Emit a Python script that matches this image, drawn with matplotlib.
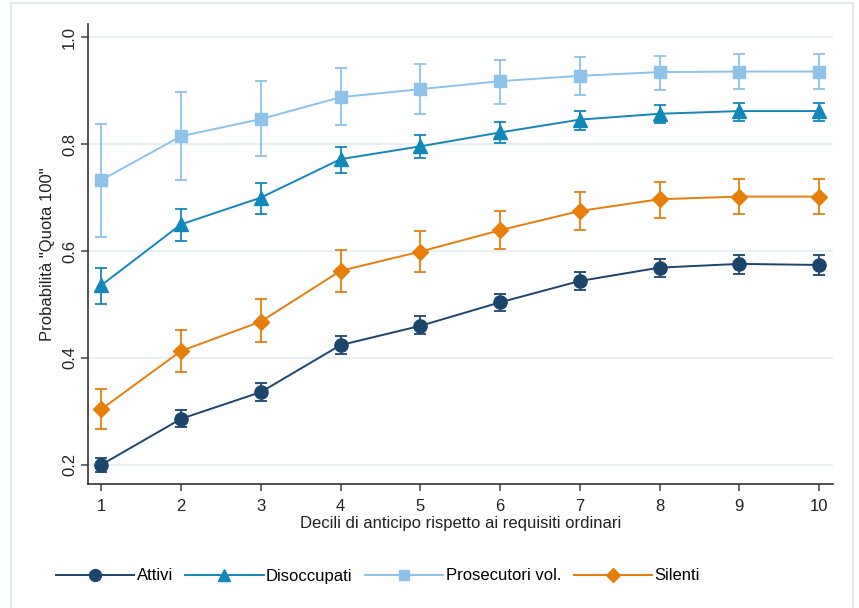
import numpy as np
import matplotlib
matplotlib.use("Agg")
import matplotlib.pyplot as plt
from matplotlib.patches import Rectangle

plt.rcParams['font.family'] = ['Liberation Sans', 'DejaVu Sans']

deciles = np.arange(1, 11)

# point estimates and confidence bounds
attivi = [0.200, 0.286, 0.336, 0.424, 0.460, 0.504, 0.544, 0.569, 0.576, 0.574]
attivi_lo = [0.187, 0.270, 0.320, 0.407, 0.444, 0.487, 0.527, 0.551, 0.558, 0.555]
attivi_hi = [0.212, 0.302, 0.353, 0.441, 0.478, 0.520, 0.561, 0.585, 0.593, 0.593]

disoccupati = [0.536, 0.650, 0.700, 0.772, 0.796, 0.822, 0.846, 0.857, 0.862, 0.862]
disoccupati_lo = [0.500, 0.619, 0.670, 0.747, 0.775, 0.802, 0.827, 0.840, 0.844, 0.844]
disoccupati_hi = [0.569, 0.679, 0.727, 0.795, 0.817, 0.841, 0.863, 0.873, 0.877, 0.877]

prosecutori = [0.733, 0.815, 0.847, 0.888, 0.903, 0.918, 0.928, 0.935, 0.936, 0.936]
prosecutori_lo = [0.626, 0.733, 0.778, 0.836, 0.856, 0.875, 0.892, 0.901, 0.903, 0.903]
prosecutori_hi = [0.837, 0.897, 0.918, 0.943, 0.951, 0.957, 0.963, 0.966, 0.968, 0.968]

silenti = [0.304, 0.413, 0.468, 0.563, 0.599, 0.639, 0.675, 0.697, 0.702, 0.702]
silenti_lo = [0.267, 0.373, 0.429, 0.523, 0.560, 0.604, 0.640, 0.662, 0.670, 0.669]
silenti_hi = [0.341, 0.452, 0.510, 0.602, 0.637, 0.675, 0.710, 0.730, 0.735, 0.734]

series = [
    ('Attivi', attivi, attivi_lo, attivi_hi, '#1c456e', 'o', 9.5),
    ('Disoccupati', disoccupati, disoccupati_lo, disoccupati_hi, '#1187ba', '^', 9.5),
    ('Prosecutori vol.', prosecutori, prosecutori_lo, prosecutori_hi, '#8dc3ea', 's', 8.5),
    ('Silenti', silenti, silenti_lo, silenti_hi, '#e67e0a', 'D', 8),
]

fig = plt.figure(figsize=(8.59, 6.08), dpi=100)
ax = fig.add_axes([88 / 859, 1 - 484 / 608, (833 - 88) / 859, (484 - 24) / 608])

for name, y, lo, hi, col, mk, ms in series:
    y = np.array(y)
    err = [y - np.array(lo), np.array(hi) - y]
    ax.errorbar(deciles, y, yerr=err, fmt='none', ecolor=col, elinewidth=1.3,
                capsize=4, capthick=1.3, zorder=2)
    ax.plot(deciles, y, color=col, lw=1.4, marker=mk, ms=ms, mec=col, mfc=col,
            label=name, zorder=3)

ax.set_xlim(0.833, 10.175)
ax.set_ylim(0.164, 1.025)
ax.set_xticks(deciles)
ax.set_yticks([0.2, 0.4, 0.6, 0.8, 1.0])
ax.set_yticklabels(['0.2', '0.4', '0.6', '0.8', '1.0'], rotation=90, va='center')
ax.tick_params(axis='both', labelsize=12, color='#444444', width=1.1, length=5,
               labelcolor='#222222')
ax.tick_params(axis='x', pad=6)
ax.tick_params(axis='y', pad=3)
ax.grid(axis='y', color='#e8f0f3', lw=1.6)
ax.set_axisbelow(True)
for s in ['top', 'right']:
    ax.spines[s].set_visible(False)
for s in ['left', 'bottom']:
    ax.spines[s].set_color('#333333')
    ax.spines[s].set_linewidth(1.2)

ax.set_xlabel('Decili di anticipo rispetto ai requisiti ordinari', fontsize=12,
              color='#222222', labelpad=1)
ax.set_ylabel('Probabilità "Quota 100"', fontsize=12, color='#222222', labelpad=5)

leg = fig.legend(loc='center left', bbox_to_anchor=(49 / 859, 1 - 576 / 608),
                 ncol=4, frameon=False, fontsize=12, handlelength=4.7,
                 handletextpad=0.15, columnspacing=0.75, borderaxespad=0,
                 markerscale=0.9)

# light frame around the graph region
fig.patches.append(Rectangle((11 / 859, -0.05), (853 - 11) / 859, 1.05 - 3 / 608,
                             transform=fig.transFigure, fill=False,
                             edgecolor='#dfeaee', lw=1.5))

fig.savefig('out.png', dpi=100)
